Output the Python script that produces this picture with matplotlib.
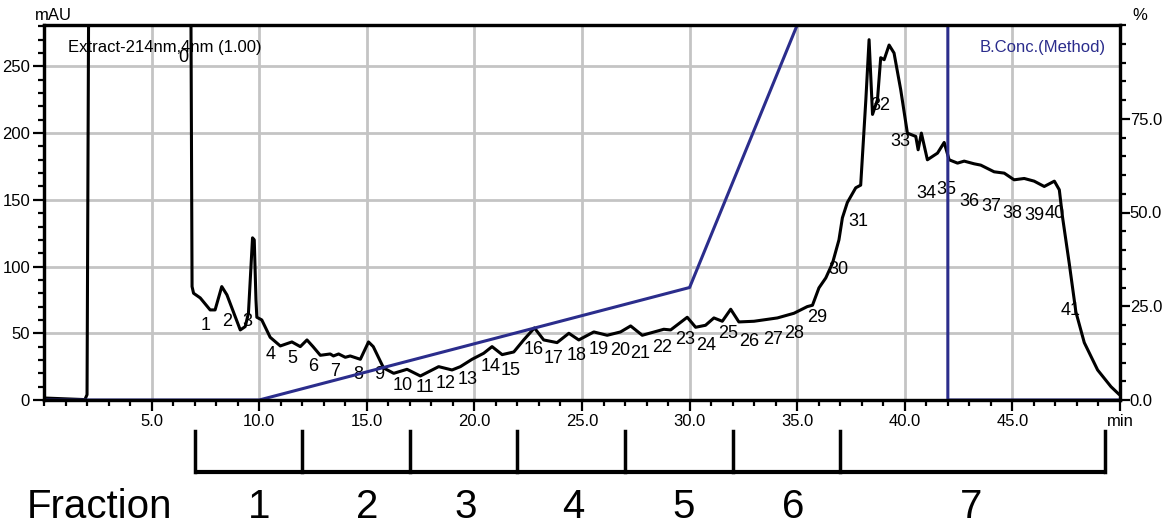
import matplotlib
matplotlib.use("Agg")
import matplotlib.pyplot as plt
from matplotlib.ticker import MultipleLocator, FixedLocator, FixedFormatter

plt.rcParams['font.family'] = ['Liberation Sans Narrow', 'Liberation Sans', 'DejaVu Sans']

# chromatogram trace (min, mAU); values above the axis top are off scale
time_min = [0.0, 1.9, 2.0, 2.1, 6.8, 6.88, 6.95, 7.26, 7.72, 7.95, 8.26, 8.5, 9.12, 9.35, 9.5,
            9.69, 9.77, 9.85, 9.89, 10.12, 10.51, 10.98, 11.52, 11.91, 12.22, 12.5, 12.84,
            13.3, 13.45, 13.69, 14.0, 14.23, 14.7, 15.08, 15.3, 15.78, 16.25, 16.87, 17.49,
            18.34, 18.96, 19.35, 19.89, 20.43, 20.82, 21.29, 21.83, 22.29, 22.79, 23.22,
            23.84, 24.39, 24.85, 25.55, 26.17, 26.79, 27.26, 27.8, 28.8, 29.12, 29.89, 30.28,
            30.74, 31.13, 31.52, 31.91, 32.29, 32.99, 34.08, 34.85, 35.47, 35.71, 36.01,
            36.33, 36.64, 36.94, 37.1, 37.33, 37.72, 37.95, 38.19, 38.34, 38.5, 38.73, 38.88,
            39.04, 39.27, 39.5, 39.81, 40.12, 40.51, 40.62, 40.77, 41.05, 41.52, 41.83,
            42.06, 42.45, 42.76, 43.22, 43.53, 44.15, 44.62, 45.08, 45.55, 46.01, 46.48,
            46.95, 47.18, 47.33, 47.64, 47.95, 48.34, 48.96, 49.58, 49.97]
absorbance = [1.5, 0.3, 4, 400, 400, 85, 80, 76.5, 67.5, 67.5, 85, 78.8, 52.5, 55, 65,
              121.5, 120, 75, 62, 60, 47, 40.5, 43.5, 40, 45, 40, 33.5,
              34.5, 33, 34.5, 32, 33, 30.5, 43.5, 40, 24, 20, 23, 18,
              25, 22.5, 25, 30.5, 35, 40, 34, 36, 45, 54, 45,
              43, 50, 45, 51, 48.5, 51, 55.5, 48.5, 53, 52.5, 62, 54.5,
              56, 61.5, 59, 68, 58.5, 59, 61.5, 65, 70, 71, 84,
              91.5, 102.5, 120, 136.5, 148, 159, 161, 225, 270, 214, 225, 256.5,
              255, 266, 260, 232.5, 200, 197.5, 187.5, 200, 180, 185, 193,
              180, 177.5, 179, 177, 176, 171, 170, 165, 166, 164, 160,
              164, 157.5, 137, 102.5, 66, 43, 22.5, 10, 4]

# B concentration program (min, %)
grad_time = [0, 10, 30, 35, 42, 42, 50]
grad_conc = [0, 0, 30, 100, 100, 0, 0]

# peak numbers and where they are written (min, mAU)
peak_ids = list(range(42))
peak_x = [6.47, 7.49, 8.51, 9.44, 10.51, 11.53, 12.51, 13.53, 14.6, 15.58, 16.65, 17.72,
          18.65, 19.67, 20.74, 21.67, 22.74, 23.67, 24.74, 25.77, 26.79, 27.72, 28.74,
          29.81, 30.79, 31.81, 32.79, 33.86, 34.84, 35.91, 36.93, 37.86, 38.88, 39.81,
          40.98, 41.95, 42.98, 44.0, 44.98, 46.0, 46.98, 47.72]
peak_y = [257, 56, 58.5, 59, 34, 31, 25, 21, 19, 19, 11, 9, 12, 15, 25, 22, 38, 31, 33,
          37.5, 37, 35, 39, 45, 41, 49.5, 43.5, 45, 50, 62, 97.5, 133.5, 220.5, 193.5,
          155, 158, 148.5, 145, 139.5, 138, 139.5, 67]

# fraction collection
frac_edges = [7, 12, 17, 22, 27, 32, 37, 49.3]
frac_labels = ['1', '2', '3', '4', '5', '6', '7']
frac_label_x = [10.0, 15.0, 19.6, 24.6, 29.7, 34.8, 43.1]

navy = '#2b2d8c'
W, H = 1171, 528
fig = plt.figure(figsize=(W / 100, H / 100), dpi=100)
ax = fig.add_axes([44 / W, 128 / H, 1076 / W, 375 / H])

ax.plot(time_min, absorbance, color='black', lw=2.2, zorder=3,
        solid_joinstyle='round', solid_capstyle='round')
ax.set_xlim(0, 50)
ax.set_ylim(0, 281)

ax.xaxis.set_major_locator(FixedLocator([5, 10, 15, 20, 25, 30, 35, 40, 45, 50]))
ax.xaxis.set_major_formatter(FixedFormatter(['5.0', '10.0', '15.0', '20.0', '25.0', '30.0',
                                             '35.0', '40.0', '45.0', 'min']))
ax.xaxis.set_minor_locator(MultipleLocator(1))
ax.yaxis.set_major_locator(MultipleLocator(50))
ax.yaxis.set_minor_locator(MultipleLocator(10))
ax.tick_params(which='major', direction='out', length=8, width=1.6, labelsize=12, pad=2)
ax.tick_params(which='minor', direction='out', length=4.5, width=1.6)
ax.tick_params(axis='x', which='major', labelsize=12)
ax.grid(True, which='major', color='#c4c4c4', lw=2.0, zorder=0)
for s in ax.spines.values():
    s.set_linewidth(2.2)

ax2 = ax.twinx()
ax2.plot(grad_time, grad_conc, color=navy, lw=2.2, zorder=2)
ax2.set_ylim(0, 100)
ax2.yaxis.set_major_locator(FixedLocator([0, 25, 50, 75]))
ax2.yaxis.set_major_formatter(FixedFormatter(['0.0', '25.0', '50.0', '75.0']))
ax2.yaxis.set_minor_locator(MultipleLocator(5))
ax2.tick_params(which='major', direction='out', length=7, width=1.6, labelsize=12, pad=0)
ax2.tick_params(which='minor', direction='out', length=4.5, width=1.6)
for s in ax2.spines.values():
    s.set_linewidth(2.4)

for pid, px, py in zip(peak_ids, peak_x, peak_y):
    ax.text(px, py, str(pid), ha='center', va='center', fontsize=13, zorder=4)

ax.text(0.0223, 0.941, 'Extract-214nm,4nm (1.00)', transform=ax.transAxes,
        ha='left', va='center', fontsize=12)
ax.text(0.987, 0.941, 'B.Conc.(Method)', transform=ax.transAxes, color=navy,
        ha='right', va='center', fontsize=12)
fig.text(53 / W, 1 - 15 / H, 'mAU', ha='center', va='center', fontsize=12)
fig.text(1140 / W, 1 - 15 / H, '%', ha='center', va='center', fontsize=12)

# fraction bracket under the time axis
axf = fig.add_axes([44 / W, 0, 1076 / W, 108 / H])
axf.set_xlim(0, 50)
axf.set_ylim(0, 1)
axf.axis('off')
axf.plot([frac_edges[0], frac_edges[-1]], [0.52, 0.52], color='black', lw=3, solid_capstyle='butt')
for e in frac_edges:
    axf.plot([e, e], [0.52, 0.9], color='black', lw=2.5)
for lx, lab in zip(frac_label_x, frac_labels):
    axf.text(lx, 0.19, lab, ha='center', va='center', fontsize=29)
axf.text(2.58, 0.19, 'Fraction', ha='center', va='center', fontsize=29)

fig.savefig('out.png', dpi=100)
